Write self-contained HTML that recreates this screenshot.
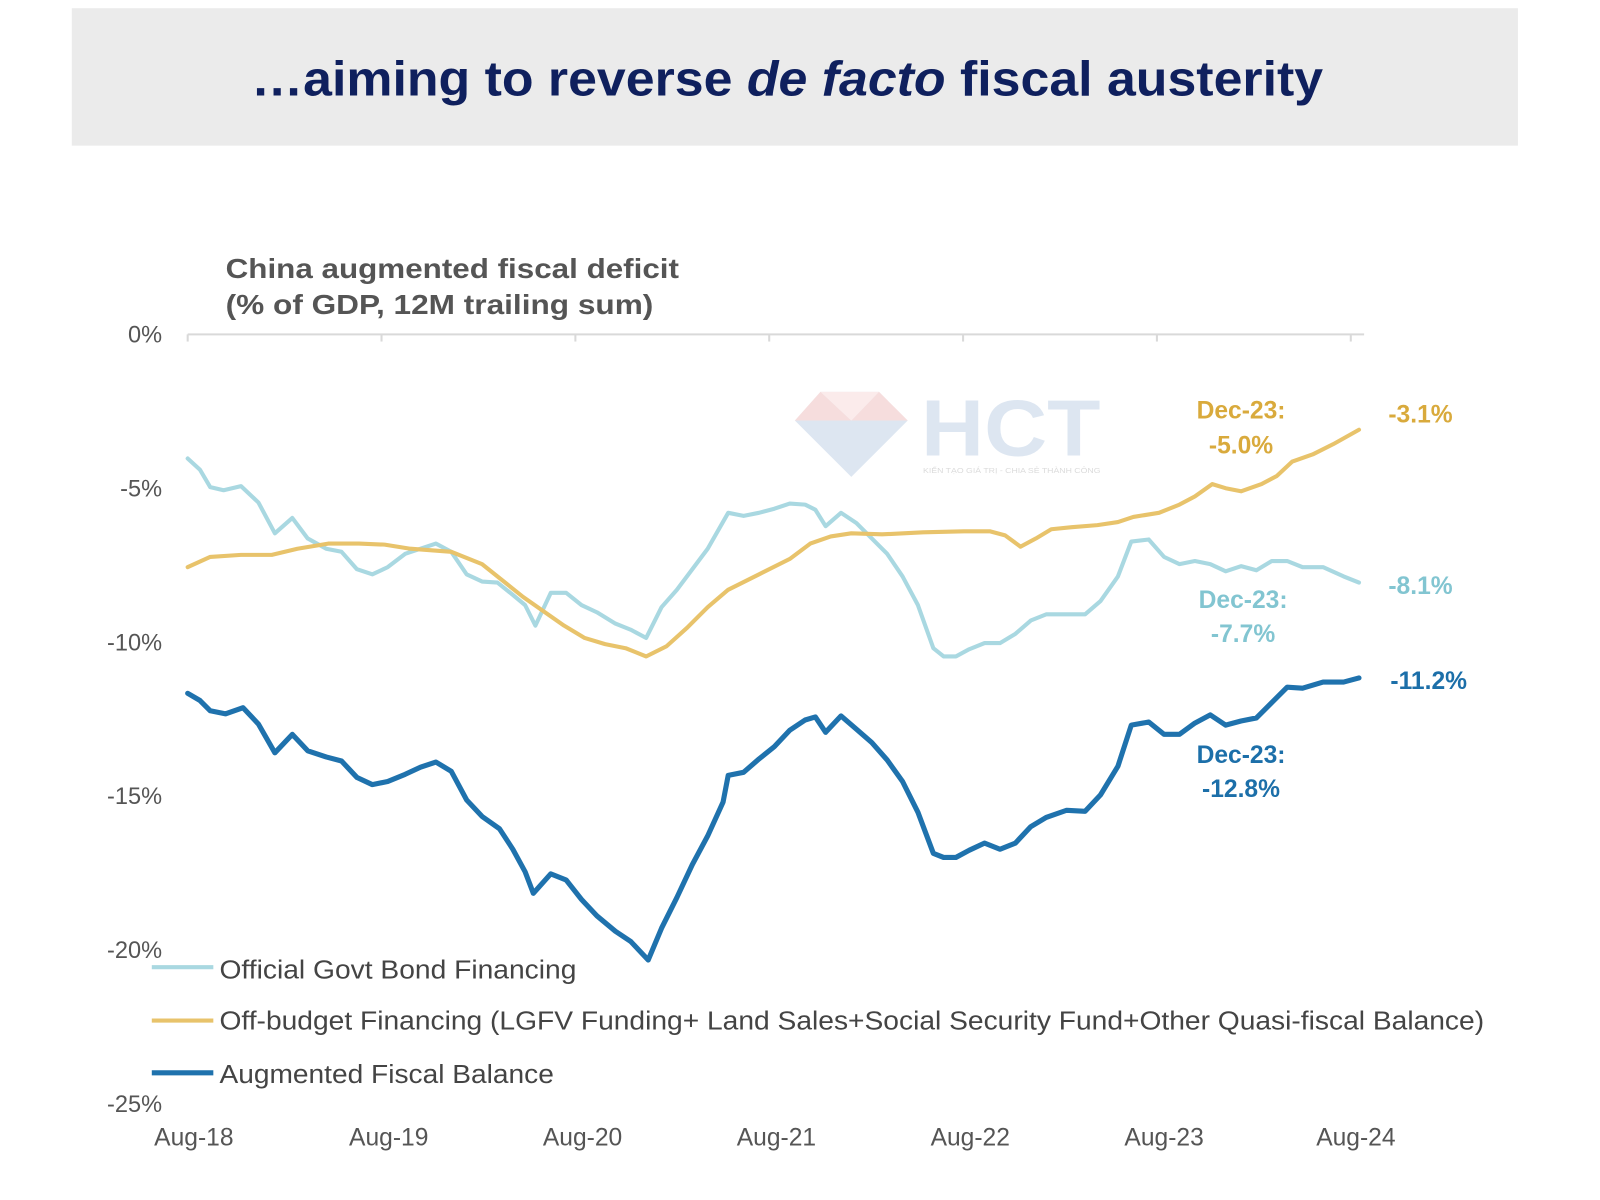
<!DOCTYPE html>
<html><head><meta charset="utf-8"><style>
html,body{margin:0;padding:0;background:#fff;width:1600px;height:1200px;overflow:hidden}
svg{display:block}
text{font-family:"Liberation Sans",Arial,sans-serif}
</style></head><body>
<svg width="1600" height="1200" viewBox="0 0 1560 1170" preserveAspectRatio="none" xmlns="http://www.w3.org/2000/svg">
<rect x="0" y="0" width="1560" height="1170" fill="#fff"/>
<rect x="70" y="8" width="1410" height="134" fill="#ebebeb"/>
<text x="245" y="93" font-size="48" font-weight="bold" fill="#0f205e" textLength="1045" lengthAdjust="spacingAndGlyphs">…aiming to reverse <tspan font-style="italic">de facto</tspan> fiscal austerity</text>

<text x="220" y="271" font-size="27" font-weight="bold" fill="#555" textLength="442" lengthAdjust="spacingAndGlyphs">China augmented fiscal deficit</text>
<text x="220" y="306" font-size="27" font-weight="bold" fill="#555" textLength="417" lengthAdjust="spacingAndGlyphs">(% of GDP, 12M trailing sum)</text>

<g opacity="0.35">
<polygon points="775,410 800,382 830,382 857,382 885,410 830,465" fill="#dfe8f2"/>
<polygon points="775,410 800,382 830,410" fill="#e6a0a0"/>
<polygon points="830,410 857,382 885,410" fill="#e6a0a0"/>
<polygon points="800,382 857,382 830,410" fill="#f4c8c8"/>
<polygon points="775,410 885,410 830,465" fill="#9fb9d8"/>
<text x="898" y="444" font-size="78" font-weight="bold" fill="#9fb9d8" textLength="175" lengthAdjust="spacingAndGlyphs">HCT</text>
<text x="900" y="461" font-size="7" fill="#999" textLength="173" lengthAdjust="spacingAndGlyphs">KIẾN TẠO GIÁ TRỊ - CHIA SẺ THÀNH CÔNG</text>
</g>

<g font-size="23" fill="#555" text-anchor="end">
<text x="158" y="334">0%</text>
<text x="158" y="484">-5%</text>
<text x="158" y="634">-10%</text>
<text x="158" y="784">-15%</text>
<text x="158" y="934">-20%</text>
<text x="158" y="1084">-25%</text>
</g>
<line x1="183" y1="326" x2="1330" y2="326" stroke="#d9d9d9" stroke-width="2"/>
<g stroke="#d9d9d9" stroke-width="2">
<line x1="183" y1="326" x2="183" y2="333"/><line x1="372" y1="326" x2="372" y2="333"/><line x1="561" y1="326" x2="561" y2="333"/><line x1="750" y1="326" x2="750" y2="333"/><line x1="939" y1="326" x2="939" y2="333"/><line x1="1128" y1="326" x2="1128" y2="333"/><line x1="1317" y1="326" x2="1317" y2="333"/>
</g>
<g font-size="24" fill="#555" text-anchor="middle">
<text x="189" y="1117">Aug-18</text><text x="379" y="1117">Aug-19</text><text x="568" y="1117">Aug-20</text><text x="757" y="1117">Aug-21</text><text x="946" y="1117">Aug-22</text><text x="1135" y="1117">Aug-23</text><text x="1322" y="1117">Aug-24</text>
</g>

<g fill="none" stroke-linejoin="round" stroke-linecap="round">
<polyline stroke="#a9d8e1" stroke-width="4" points="183,447 195,458 205,475 218,478 235,474 252,490 268,520 285,505 300,525 318,535 333,538 348,555 363,560 378,553 395,540 410,535 425,530 440,538 455,560 470,567 485,568 500,580 512,590 522,610 537,578 552,578 567,590 582,597 600,608 615,614 630,622 645,592 660,575 675,555 690,535 710,500 725,503 740,500 755,496 770,491 785,492 795,497 805,513 820,500 835,510 850,525 865,540 880,562 895,590 910,632 920,640 932,640 945,633 960,627 975,627 990,618 1005,605 1020,599 1040,599 1058,599 1073,586 1090,562 1103,528 1120,526 1135,543 1150,550 1165,547 1180,550 1195,557 1210,552 1225,556 1240,547 1255,547 1270,553 1290,553 1310,562 1325,568"/>
<polyline stroke="#e8c36b" stroke-width="4" points="183,553 205,543 235,541 265,541 290,535 320,530 350,530 375,531 400,535 440,538 470,550 490,566 510,582 530,596 550,610 570,622 590,628 610,632 630,640 650,630 670,612 690,592 710,575 740,560 770,545 790,530 810,523 830,520 860,521 900,519 940,518 965,518 980,522 995,533 1010,525 1025,516 1045,514 1070,512 1090,509 1105,504 1130,500 1150,492 1165,484 1182,472 1195,476 1210,479 1230,472 1245,464 1260,450 1280,443 1300,433 1325,419"/>
<polyline stroke="#1f72ad" stroke-width="5" points="183,676 195,683 205,693 220,696 237,690 252,706 268,734 285,716 300,732 318,738 333,742 348,758 363,765 378,762 395,755 410,748 425,743 440,752 455,780 470,796 487,808 500,828 512,850 520,871 537,852 552,858 567,877 582,893 600,908 615,918 632,936 645,905 660,875 675,843 690,815 705,782 710,756 725,753 740,740 755,728 770,712 785,702 795,699 805,714 820,698 835,711 850,724 865,741 880,762 895,792 910,832 920,836 932,836 945,829 960,822 975,828 990,822 1005,806 1020,797 1040,790 1058,791 1073,775 1090,747 1103,707 1120,704 1135,716 1150,716 1165,705 1180,697 1195,707 1210,703 1225,700 1240,685 1255,670 1270,671 1290,665 1310,665 1325,661"/>
</g>

<g font-size="24" font-weight="bold" text-anchor="middle">
<text x="1210" y="408" fill="#d9aa3c">Dec-23:</text>
<text x="1210" y="442" fill="#d9aa3c">-5.0%</text>
<text x="1385" y="412" fill="#d9aa3c">-3.1%</text>
<text x="1212" y="593" fill="#82c5d1">Dec-23:</text>
<text x="1212" y="626" fill="#82c5d1">-7.7%</text>
<text x="1385" y="579" fill="#82c5d1">-8.1%</text>
<text x="1210" y="744" fill="#1c6fa9">Dec-23:</text>
<text x="1210" y="777" fill="#1c6fa9">-12.8%</text>
<text x="1393" y="672" fill="#1c6fa9">-11.2%</text>
</g>

<line x1="148" y1="943" x2="208" y2="943" stroke="#a9d8e1" stroke-width="4"/>
<line x1="148" y1="995" x2="208" y2="995" stroke="#e8c36b" stroke-width="4"/>
<line x1="148" y1="1046" x2="208" y2="1046" stroke="#1f72ad" stroke-width="5"/>
<g font-size="25" fill="#444">
<text x="214" y="954" textLength="348" lengthAdjust="spacingAndGlyphs">Official Govt Bond Financing</text>
<text x="214" y="1004" textLength="1233" lengthAdjust="spacingAndGlyphs">Off-budget Financing (LGFV Funding+ Land Sales+Social Security Fund+Other Quasi-fiscal Balance)</text>
<text x="214" y="1056" textLength="326" lengthAdjust="spacingAndGlyphs">Augmented Fiscal Balance</text>
</g>
</svg>
</body></html>
